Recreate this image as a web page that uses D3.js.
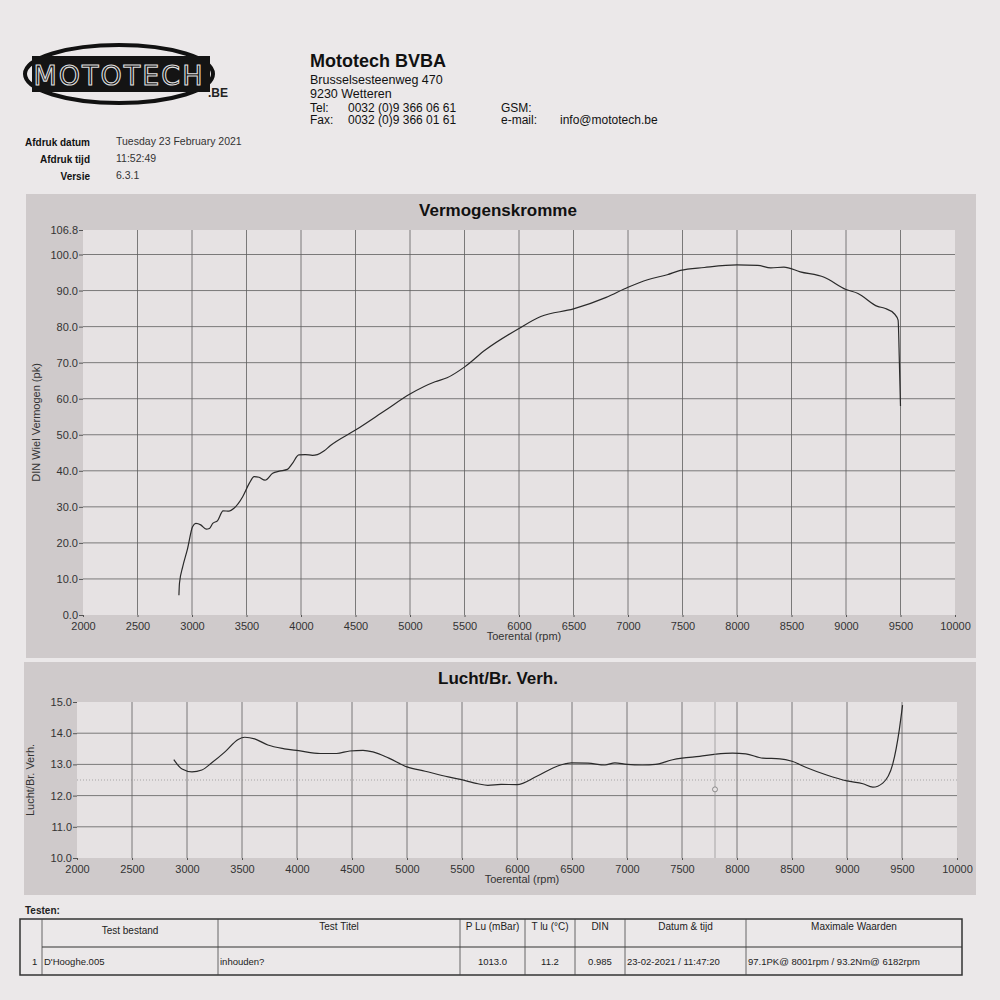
<!DOCTYPE html>
<html>
<head>
<meta charset="utf-8">
<script src="https://cdn.jsdelivr.net/npm/d3@7"></script>
<style>
	body { margin: 0; background: #ebe8e9; }
	svg { display: block; font-family: "Liberation Sans", Arial, sans-serif; }
</style>
</head>
<body>
<div id="sheet"></div>
<script>
// values
var rpmTicks = [2000, 2500, 3000, 3500, 4000, 4500, 5000, 5500, 6000, 6500, 7000, 7500, 8000, 8500, 9000, 9500, 10000];
var powerTicks = [0, 10, 20, 30, 40, 50, 60, 70, 80, 90, 100, 106.8];
var afrTicks = [10, 11, 12, 13, 14, 15];

var powerRpm = [2880, 2885, 2915, 2960, 3005, 3035, 3080, 3130, 3160, 3190, 3235, 3285, 3340, 3385, 3465, 3525, 3570, 3615, 3670, 3740,
	3800, 3875, 3920, 3980, 4040, 4105, 4150, 4210, 4270, 4500, 4775, 5000, 5230, 5340, 5505, 5690, 6000, 6200, 6500, 6800,
	7000, 7180, 7360, 7480, 7700, 8000, 8190, 8310, 8430, 8580, 8800, 9000, 9110, 9290, 9355, 9445, 9478, 9490, 9500];
var powerPk = [5.5, 8.8, 13.4, 18.5, 24.5, 25.4, 25.0, 23.8, 24.0, 25.4, 26.2, 28.9, 28.8, 29.6, 32.8, 36.5, 38.4, 38.2, 37.4, 39.3,
	39.9, 40.4, 42.0, 44.4, 44.5, 44.3, 44.5, 45.5, 47.0, 51.3, 56.8, 61.3, 64.7, 65.8, 68.9, 73.5, 79.5, 82.8, 84.9, 88.1,
	90.9, 93.0, 94.4, 95.6, 96.4, 97.1, 97.0, 96.3, 96.5, 95.2, 93.7, 90.3, 89.2, 85.6, 85.1, 83.5, 81.8, 69.8, 58.0];

var afrRpm = [2880, 2955, 3045, 3135, 3225, 3345, 3465, 3525, 3615, 3735, 3885, 4015, 4210, 4360, 4480, 4600, 4690, 4835, 5000, 5165,
	5375, 5485, 5645, 5735, 5855, 6000, 6180, 6370, 6495, 6645, 6800, 6890, 7000, 7140, 7260, 7415, 7500, 7660, 7810, 7960,
	8080, 8235, 8390, 8500, 8630, 8815, 9000, 9145, 9235, 9325, 9415, 9475, 9505];
var afrVal = [13.15, 12.85, 12.76, 12.82, 13.05, 13.4, 13.8, 13.87, 13.82, 13.62, 13.5, 13.44, 13.35, 13.35, 13.43, 13.45, 13.4, 13.2, 12.92, 12.78,
	12.6, 12.52, 12.38, 12.33, 12.36, 12.35, 12.62, 12.95, 13.05, 13.04, 12.98, 13.05, 13.0, 12.98, 13.0, 13.15, 13.2, 13.26, 13.33, 13.36,
	13.34, 13.2, 13.18, 13.1, 12.9, 12.66, 12.47, 12.38, 12.27, 12.4, 13.0, 14.1, 14.9];
var afrCursor = [7800, 12.2];

var infoLabels = ["Afdruk datum", "Afdruk tijd", "Versie"];
var infoValues = ["Tuesday 23 February 2021", "11:52:49", "6.3.1"];
var addressLines = ["Brusselsesteenweg 470", "9230 Wetteren"];

var tableHeaders = ["", "Test bestand", "Test Titel", "P Lu (mBar)", "T lu (°C)", "DIN", "Datum & tijd", "Maximale Waarden"];
var tableRow = ["1", "D'Hooghe.005", "inhouden?", "1013.0", "11.2", "0.985", "23-02-2021 / 11:47:20", "97.1PK@ 8001rpm / 93.2Nm@ 6182rpm"];
var tableCols = [20, 42, 218, 460, 525, 575, 625, 746, 962];

var svg = d3.select("#sheet").append("svg").attr("width", 1000).attr("height", 1000);
svg.append("rect").attr("width", 1000).attr("height", 1000).attr("fill", "#ebe8e9");

// logo
var logo = svg.append("g").attr("class", "logo");
logo.append("ellipse").attr("cx", 119).attr("cy", 74).attr("rx", 94).attr("ry", 29)
	.attr("fill", "none").attr("stroke", "#111").attr("stroke-width", 4);
logo.append("rect").attr("x", 32).attr("y", 56).attr("width", 178).attr("height", 36).attr("fill", "#141414");
logo.append("text").attr("x", 119).attr("y", 85).attr("text-anchor", "middle")
	.attr("font-size", 27).attr("letter-spacing", 2).attr("font-family", "'DejaVu Sans', sans-serif")
	.attr("fill", "#141414").attr("stroke", "#dedede").attr("stroke-width", 1.1)
	.text("MOTOTECH");
logo.append("text").attr("x", 208).attr("y", 97).attr("font-size", 12).attr("font-weight", "bold")
	.attr("fill", "#222").text(".BE");

// header
var head = svg.append("g").attr("fill", "#111");
head.append("text").attr("x", 310).attr("y", 67).attr("font-size", 18).attr("font-weight", "bold").text("Mototech BVBA");
head.selectAll(".addr").data(addressLines).enter().append("text")
	.attr("x", 310).attr("y", function(d, i) { return 84 + i * 14; })
	.attr("font-size", 12.5).text(function(d) { return d; });
var contact = [
	{ x: 310, y: 112, t: "Tel:" }, { x: 348, y: 112, t: "0032 (0)9 366 06 61" },
	{ x: 310, y: 124, t: "Fax:" }, { x: 348, y: 124, t: "0032 (0)9 366 01 61" },
	{ x: 501, y: 112, t: "GSM:" }, { x: 501, y: 124, t: "e-mail:" }, { x: 560, y: 124, t: "info@mototech.be" }
];
head.selectAll(".contact").data(contact).enter().append("text")
	.attr("x", function(d) { return d.x; }).attr("y", function(d) { return d.y; })
	.attr("font-size", 12).text(function(d) { return d.t; });

head.selectAll(".infoL").data(infoLabels).enter().append("text")
	.attr("x", 90).attr("y", function(d, i) { return 146 + i * 17; })
	.attr("text-anchor", "end").attr("font-size", 10).attr("font-weight", "bold")
	.text(function(d) { return d; });
head.selectAll(".infoV").data(infoValues).enter().append("text")
	.attr("x", 116).attr("y", function(d, i) { return 145 + i * 17; })
	.attr("font-size", 10.5).attr("fill", "#333")
	.text(function(d) { return d; });

function drawChart(opt) {
	var g = svg.append("g");
	g.append("rect").attr("x", opt.panel[0]).attr("y", opt.panel[1])
		.attr("width", opt.panel[2]).attr("height", opt.panel[3]).attr("fill", "#cfcacb");
	g.append("text").attr("x", 498).attr("y", opt.panel[1] + 22)
		.attr("text-anchor", "middle").attr("font-size", 17).attr("font-weight", "bold").attr("fill", "#111")
		.text(opt.title);

	var x = d3.scaleLinear().domain([2000, 10000]).range([opt.left, opt.right]);
	var y = d3.scaleLinear().domain(opt.yDomain).range([opt.bottom, opt.top]);

	g.append("rect").attr("x", opt.left).attr("y", opt.top)
		.attr("width", opt.right - opt.left).attr("height", opt.bottom - opt.top).attr("fill", "#e6e2e3");

	// grid
	g.selectAll(".vgrid").data(rpmTicks.slice(1, -1)).enter().append("line")
		.attr("x1", x).attr("x2", x).attr("y1", opt.top).attr("y2", opt.bottom)
		.attr("stroke", "#5e5e5e").attr("stroke-width", 0.8);
	g.selectAll(".hgrid").data(opt.gridLines).enter().append("line")
		.attr("x1", opt.left).attr("x2", opt.right)
		.attr("y1", y).attr("y2", y)
		.attr("stroke", "#5e5e5e").attr("stroke-width", 0.8);
	if (opt.dotted) {
		g.selectAll(".dgrid").data(opt.dotted).enter().append("line")
			.attr("x1", opt.left).attr("x2", opt.right).attr("y1", y).attr("y2", y)
			.attr("stroke", "#8a8a8a").attr("stroke-width", 0.7).attr("stroke-dasharray", "1,2");
	}

	var yAxis = g.append("g").attr("transform", "translate(" + opt.left + ",0)")
		.call(d3.axisLeft(y).tickValues(opt.yTicks).tickSize(4).tickPadding(1)
			.tickFormat(function(d) { return d.toFixed(1); }));
	var xAxis = g.append("g").attr("transform", "translate(0," + opt.bottom + ")")
		.call(d3.axisBottom(x).tickValues(rpmTicks).tickSize(2).tickPadding(5).tickFormat(d3.format("d")));
	[yAxis, xAxis].forEach(function(a) {
		a.select(".domain").remove();
		a.selectAll("line").attr("stroke", "#555");
		a.selectAll("text").attr("font-size", 11).attr("fill", "#333")
			.attr("font-family", "'Liberation Sans', Arial, sans-serif");
	});

	g.append("text").attr("x", (opt.left + opt.right) / 2 + 5).attr("y", opt.bottom + 25)
		.attr("text-anchor", "middle").attr("font-size", 11).attr("fill", "#333").text("Toerental (rpm)");
	g.append("text")
		.attr("transform", "translate(" + (opt.left - 43) + "," + ((opt.top + opt.bottom) / 2) + ") rotate(-90)")
		.attr("text-anchor", "middle").attr("font-size", 11).attr("fill", "#333").text(opt.yLabel);

	var line = d3.line()
		.x(function(d) { return x(d[0]); })
		.y(function(d) { return y(d[1]); })
		.curve(d3.curveMonotoneX);
	g.append("path").datum(d3.zip(opt.xs, opt.ys))
		.attr("d", line).attr("fill", "none").attr("stroke", "#2a2a2a").attr("stroke-width", 1.2);
	return { g: g, x: x, y: y };
}

drawChart({
	panel: [26, 194, 950, 464],
	title: "Vermogenskromme",
	left: 83, right: 955, top: 230, bottom: 615,
	yDomain: [0, 106.8],
	yTicks: powerTicks,
	gridLines: powerTicks.slice(1, -1),
	yLabel: "DIN Wiel Vermogen (pk)",
	xs: powerRpm, ys: powerPk
});

var afr = drawChart({
	panel: [24, 662, 952, 233],
	title: "Lucht/Br. Verh.",
	left: 77, right: 957, top: 702, bottom: 858,
	yDomain: [10, 15],
	yTicks: afrTicks,
	gridLines: afrTicks.slice(1, -1),
	dotted: [12.5],
	yLabel: "Lucht/Br. Verh.",
	xs: afrRpm, ys: afrVal
});
afr.g.append("line").attr("x1", afr.x(afrCursor[0])).attr("x2", afr.x(afrCursor[0]))
	.attr("y1", afr.y(15)).attr("y2", afr.y(10)).attr("stroke", "#8a8a8a").attr("stroke-width", 0.7);
afr.g.append("circle").attr("cx", afr.x(afrCursor[0])).attr("cy", afr.y(afrCursor[1])).attr("r", 2.5)
	.attr("fill", "#e6e2e3").attr("stroke", "#777").attr("stroke-width", 0.8);

// test table
var tbl = svg.append("g").attr("font-size", 10).attr("fill", "#222");
tbl.append("text").attr("x", 25).attr("y", 914).attr("font-weight", "bold").text("Testen:");
var tTop = 919, tMid = 947, tBot = 975;
tbl.append("rect").attr("x", tableCols[0]).attr("y", tTop)
	.attr("width", tableCols[tableCols.length - 1] - tableCols[0]).attr("height", tBot - tTop)
	.attr("fill", "none").attr("stroke", "#333").attr("stroke-width", 1.5);
tbl.append("line").attr("x1", tableCols[1]).attr("x2", tableCols[tableCols.length - 1])
	.attr("y1", tMid).attr("y2", tMid).attr("stroke", "#333").attr("stroke-width", 1.2);
tbl.selectAll(".col").data(tableCols.slice(1, -1)).enter().append("line")
	.attr("x1", function(d) { return d; }).attr("x2", function(d) { return d; })
	.attr("y1", tTop).attr("y2", tBot).attr("stroke", "#444").attr("stroke-width", 0.8);
tbl.selectAll(".th").data(tableHeaders).enter().append("text")
	.attr("x", function(d, i) { return (tableCols[i] + tableCols[i + 1]) / 2; })
	.attr("y", function(d, i) { return i === 1 ? 934 : 930; })
	.attr("text-anchor", "middle").text(function(d) { return d; });
tbl.selectAll(".td").data(tableRow).enter().append("text")
	.attr("x", function(d, i) {
		if (i === 0) return 32;
		if (i >= 3 && i <= 5) return (tableCols[i] + tableCols[i + 1]) / 2;
		return tableCols[i] + 2;
	})
	.attr("y", 965)
	.attr("text-anchor", function(d, i) { return (i >= 3 && i <= 5) ? "middle" : "start"; })
	.attr("font-size", 9.5)
	.text(function(d) { return d; });
</script>
</body>
</html>
